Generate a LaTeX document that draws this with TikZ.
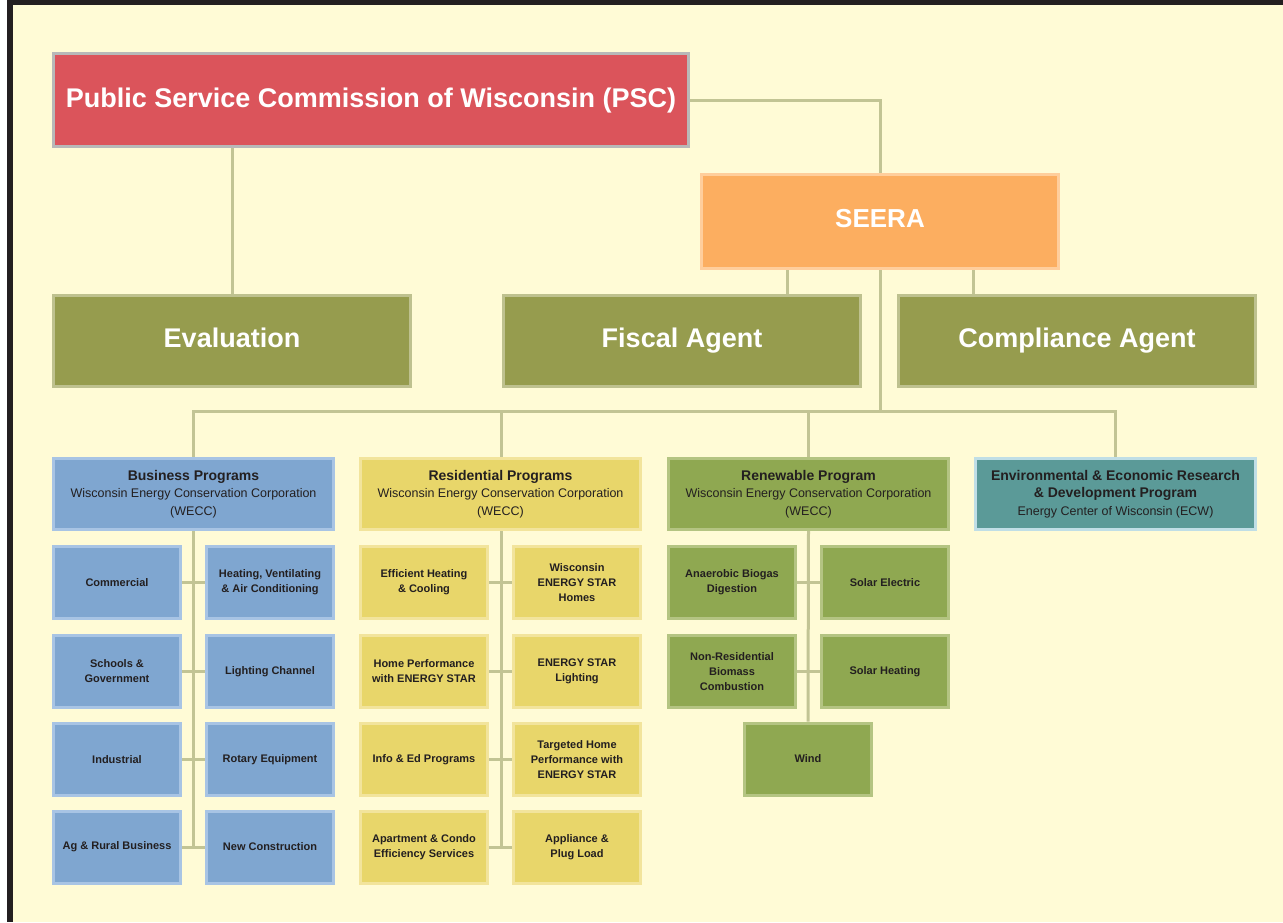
\documentclass[tikz,border=0pt]{standalone}
\usepackage{fontspec}
\setmainfont{Liberation Sans}
\usetikzlibrary{backgrounds}
\definecolor{bgc}{RGB}{255,251,214}
\definecolor{framec}{RGB}{35,31,32}
\definecolor{pscfill}{RGB}{219,84,91}
\definecolor{pscedge}{RGB}{184,184,184}
\definecolor{seerafill}{RGB}{252,174,96}
\definecolor{seeraedge}{RGB}{255,206,156}
\definecolor{agentfill}{RGB}{150,156,78}
\definecolor{agentedge}{RGB}{190,193,143}
\definecolor{busfill}{RGB}{127,166,208}
\definecolor{busedge}{RGB}{168,196,228}
\definecolor{resfill}{RGB}{232,214,106}
\definecolor{resedge}{RGB}{242,228,156}
\definecolor{renfill}{RGB}{143,168,81}
\definecolor{renedge}{RGB}{180,196,130}
\definecolor{envfill}{RGB}{91,154,152}
\definecolor{envedge}{RGB}{192,222,230}
\definecolor{linec}{RGB}{194,196,148}
\definecolor{txt}{RGB}{35,31,32}
\tikzset{
  box/.style={rectangle, line width=3pt, inner sep=0pt, align=center, text=txt},
  bigbox/.style={box, minimum height=91pt, text=white, font=\fontsize{27}{30}\selectfont\bfseries, text height=19.5pt, text depth=6pt},
  agent/.style={bigbox, fill=agentfill, draw=agentedge, minimum width=357pt},
  hdr/.style={box, minimum width=280pt, minimum height=71pt, font=\fontsize{12.5}{17.5}\selectfont},
  sub/.style={box, minimum width=127pt, minimum height=72pt, font=\fontsize{11}{15}\selectfont\bfseries},
  bus/.style={fill=busfill, draw=busedge},
  res/.style={fill=resfill, draw=resedge},
  ren/.style={fill=renfill, draw=renedge},
  conn/.style={draw=linec, line width=3pt}
}
\newcommand{\hdrtitle}[1]{{\fontsize{14}{18}\selectfont\bfseries #1}}
\begin{document}
\begin{tikzpicture}[x=1pt,y=-1pt]
\useasboundingbox (0,0) rectangle (1283,922);
\begin{scope}[on background layer]
\fill[white] (0,0) rectangle (1283,922);
\fill[bgc] (13,5) rectangle (1283,922);
\fill[framec] (7,0) rectangle (1283,5);
\fill[framec] (7,0) rectangle (13,922);
\end{scope}

% top level
\node[bigbox, fill=pscfill, draw=pscedge, minimum width=635pt, minimum height=93pt, text depth=4pt] (psc) at (371,100) {Public Service Commission of Wisconsin (PSC)};
\node[bigbox, fill=seerafill, draw=seeraedge, minimum width=357pt, minimum height=94pt, font=\fontsize{26}{30}\selectfont\bfseries, text depth=7pt] (seera) at (880,221.5) {SEERA};
\node[agent] (eval) at (232,341) {Evaluation};
\node[agent] (fiscal) at (682,341) {Fiscal Agent};
\node[agent] (comp) at (1077,341) {Compliance Agent};

% program headers
\node[hdr, bus] (bus) at (193.5,494) {\hdrtitle{Business Programs}\\Wisconsin Energy Conservation Corporation\\(WECC)};
\node[hdr, res] (res) at (500.5,494) {\hdrtitle{Residential Programs}\\Wisconsin Energy Conservation Corporation\\(WECC)};
\node[hdr, ren] (ren) at (808.5,494) {\hdrtitle{Renewable Program}\\Wisconsin Energy Conservation Corporation\\(WECC)};
\node[hdr, fill=envfill, draw=envedge] (env) at (1115.5,494) {\hdrtitle{Environmental \& Economic Research}\\\hdrtitle{\& Development Program}\\Energy Center of Wisconsin (ECW)};

% business sub-programs
\node[sub, bus] (b1) at (117,582.5) {Commercial};
\node[sub, bus] (b2) at (270,582.5) {Heating, Ventilating\\\& Air Conditioning};
\node[sub, bus] (b3) at (117,671.5) {Schools \&\\Government};
\node[sub, bus] (b4) at (270,671.5) {Lighting Channel};
\node[sub, bus] (b5) at (117,759.5) {Industrial};
\node[sub, bus] (b6) at (270,759.5) {Rotary Equipment};
\node[sub, bus] (b7) at (117,847) {Ag \& Rural Business};
\node[sub, bus] (b8) at (270,847) {New Construction};

% residential sub-programs
\node[sub, res] (r1) at (424,582.5) {Efficient Heating\\\& Cooling};
\node[sub, res] (r2) at (577,582.5) {Wisconsin\\ENERGY STAR\\Homes};
\node[sub, res] (r3) at (424,671.5) {Home Performance\\with ENERGY STAR};
\node[sub, res] (r4) at (577,671.5) {ENERGY STAR\\Lighting};
\node[sub, res] (r5) at (424,759.5) {Info \& Ed Programs};
\node[sub, res] (r6) at (577,759.5) {Targeted Home\\Performance with\\ENERGY STAR};
\node[sub, res] (r7) at (424,847) {Apartment \& Condo\\Efficiency Services};
\node[sub, res] (r8) at (577,847) {Appliance \&\\Plug Load};

% renewable sub-programs
\node[sub, ren] (n1) at (732,582.5) {Anaerobic Biogas\\Digestion};
\node[sub, ren] (n2) at (885,582.5) {Solar Electric};
\node[sub, ren] (n3) at (732,671.5) {Non-Residential\\Biomass\\Combustion};
\node[sub, ren] (n4) at (885,671.5) {Solar Heating};
\node[sub, ren] (n5) at (808,759) {Wind};

% connectors
\coordinate (bar) at (880,411);
\begin{scope}[on background layer]
\draw[conn] (psc.south -| eval.north) -- (eval.north);
\draw[conn] (psc.east) -| (seera.north);
\draw[conn] (seera.south -| 787,0) -- (fiscal.north -| 787,0);
\draw[conn] (seera.south -| 973,0) -- (comp.north -| 973,0);
\draw[conn] (seera.south) -- (bar);
\draw[conn] (bar) -- (bar -| bus.north) -- (bus.north);
\draw[conn] (bar) -- (bar -| env.north) -- (env.north);
\draw[conn] (bar -| 501,0) -- (res.north -| 501,0);
\draw[conn] (bar -| ren.north) -- (ren.north);
% business tree
\draw[conn] (bus.south) -- (bus.south |- b7.east);
\draw[conn] (b1.east) -- (b2.west);
\draw[conn] (b3.east) -- (b4.west);
\draw[conn] (b5.east) -- (b6.west);
\draw[conn] (b7.east) -- (b8.west);
% residential tree
\draw[conn] (res.south -| 501,0) -- (r7.east -| 501,0);
\draw[conn] (r1.east) -- (r2.west);
\draw[conn] (r3.east) -- (r4.west);
\draw[conn] (r5.east) -- (r6.west);
\draw[conn] (r7.east) -- (r8.west);
% renewable tree
\draw[conn] (ren.south) -- (n5.north);
\draw[conn] (n1.east) -- (n2.west);
\draw[conn] (n3.east) -- (n4.west);
\end{scope}
\end{tikzpicture}
\end{document}
